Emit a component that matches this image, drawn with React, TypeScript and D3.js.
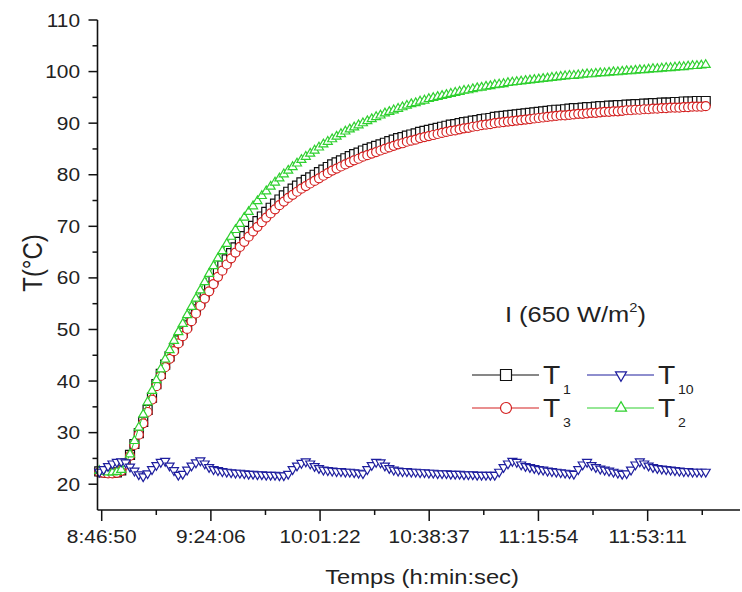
import React from "react";
import * as d3 from "d3";

// ---------- data ----------
const sampleStart = "8:46:00"; // time of first sample
const sampleStepSec = 90; // sampling interval (s)

const T1 = [
  22.5, 22.3, 22.2, 22.2, 22.3, 22.7, 24.0, 25.7, 27.8, 29.9,
  32.1, 34.4, 36.8, 39.4, 41.4, 43.2, 44.8, 46.4, 47.9, 49.4,
  50.8, 52.3, 53.9, 55.4, 56.8, 58.3, 59.7, 61.1, 62.4, 63.6,
  64.8, 65.9, 67.0, 68.1, 69.1, 70.1, 71.0, 71.9, 72.8, 73.6,
  74.4, 75.2, 76.0, 76.7, 77.3, 77.9, 78.5, 79.0, 79.5, 80.0,
  80.5, 81.0, 81.5, 82.0, 82.4, 82.8, 83.2, 83.6, 84.0, 84.3,
  84.7, 85.0, 85.3, 85.6, 85.9, 86.2, 86.5, 86.8, 87.1, 87.3,
  87.6, 87.8, 88.0, 88.3, 88.5, 88.7, 88.9, 89.1, 89.3, 89.5,
  89.7, 89.8, 90.0, 90.2, 90.3, 90.5, 90.6, 90.8, 90.9, 91.0,
  91.2, 91.3, 91.4, 91.5, 91.6, 91.7, 91.8, 91.9, 92.0, 92.1,
  92.2, 92.3, 92.4, 92.5, 92.6, 92.6, 92.7, 92.8, 92.9, 92.9,
  93.0, 93.1, 93.1, 93.2, 93.3, 93.3, 93.4, 93.4, 93.5, 93.5,
  93.6, 93.6, 93.7, 93.7, 93.8, 93.8, 93.9, 93.9, 94.0, 94.0,
  94.0, 94.1, 94.1, 94.2, 94.2, 94.2, 94.3, 94.3, 94.3,
];

const T3 = [
  22.3, 22.2, 22.1, 22.1, 22.2, 22.6, 23.8, 25.5, 27.6, 29.6,
  31.8, 34.0, 36.4, 39.0, 41.0, 42.7, 44.3, 45.8, 47.3, 48.7,
  50.1, 51.6, 53.1, 54.6, 56.0, 57.4, 58.8, 60.2, 61.4, 62.6,
  63.8, 64.9, 66.0, 67.0, 68.0, 69.0, 69.9, 70.8, 71.7, 72.5,
  73.3, 74.1, 74.8, 75.5, 76.1, 76.7, 77.3, 77.8, 78.3, 78.8,
  79.3, 79.8, 80.3, 80.8, 81.2, 81.6, 82.0, 82.4, 82.8, 83.1,
  83.5, 83.8, 84.1, 84.4, 84.7, 85.0, 85.3, 85.6, 85.9, 86.1,
  86.4, 86.6, 86.8, 87.1, 87.3, 87.5, 87.7, 87.9, 88.1, 88.3,
  88.5, 88.6, 88.8, 89.0, 89.1, 89.3, 89.4, 89.6, 89.7, 89.8,
  90.0, 90.1, 90.2, 90.3, 90.4, 90.5, 90.6, 90.7, 90.8, 90.9,
  91.0, 91.1, 91.2, 91.3, 91.4, 91.5, 91.5, 91.6, 91.7, 91.8,
  91.8, 91.9, 92.0, 92.0, 92.1, 92.2, 92.2, 92.3, 92.3, 92.4,
  92.5, 92.5, 92.6, 92.6, 92.7, 92.7, 92.8, 92.8, 92.9, 92.9,
  93.0, 93.0, 93.0, 93.1, 93.1, 93.2, 93.2, 93.2, 93.3,
];

const T2 = [
  22.6, 22.4, 22.3, 22.3, 22.4, 22.8, 24.0, 25.8, 28.4, 31.0,
  33.5, 35.9, 38.1, 40.2, 42.3, 44.2, 46.0, 47.8, 49.5, 51.1,
  52.8, 54.4, 56.0, 57.6, 59.2, 60.8, 62.3, 63.8, 65.2, 66.6,
  68.0, 69.3, 70.5, 71.7, 72.8, 73.9, 74.9, 75.9, 76.8, 77.7,
  78.5, 79.3, 80.1, 80.8, 81.5, 82.2, 82.9, 83.5, 84.1, 84.7,
  85.3, 85.9, 86.4, 86.9, 87.4, 87.9, 88.4, 88.8, 89.2, 89.6,
  90.0, 90.4, 90.8, 91.2, 91.5, 91.9, 92.2, 92.5, 92.8, 93.1,
  93.4, 93.7, 93.9, 94.2, 94.4, 94.7, 94.9, 95.1, 95.3, 95.5,
  95.7, 95.9, 96.1, 96.3, 96.4, 96.6, 96.8, 96.9, 97.1, 97.2,
  97.4, 97.5, 97.6, 97.8, 97.9, 98.0, 98.1, 98.2, 98.3, 98.4,
  98.5, 98.6, 98.7, 98.8, 98.9, 99.0, 99.1, 99.2, 99.2, 99.3,
  99.4, 99.5, 99.5, 99.6, 99.7, 99.7, 99.8, 99.9, 99.9, 100.0,
  100.1, 100.1, 100.2, 100.3, 100.3, 100.4, 100.5, 100.5, 100.6, 100.7,
  100.7, 100.8, 100.9, 100.9, 101.0, 101.1, 101.1, 101.2, 101.3,
];

const T10 = [
  22.4, 22.9, 23.5, 24.0, 24.3, 24.4, 24.2, 23.4, 22.6, 21.9,
  21.5, 22.1, 22.9, 23.7, 24.3, 24.5, 23.6, 22.7, 21.8, 22.0,
  22.8, 23.6, 24.2, 24.6, 24.0, 23.3, 22.9, 22.7, 22.5, 22.4,
  22.3, 22.2, 22.2, 22.1, 22.0, 22.0, 21.9, 21.9, 21.8, 21.8,
  21.8, 21.7, 21.7, 22.0, 22.9, 23.6, 24.1, 24.4, 24.0, 23.5,
  23.1, 22.8, 22.7, 22.6, 22.5, 22.5, 22.4, 22.4, 22.3, 22.2,
  22.1, 22.9, 23.7, 24.3, 24.2, 23.6, 23.1, 22.8, 22.6, 22.5,
  22.5, 22.4, 22.4, 22.3, 22.3, 22.2, 22.2, 22.1, 22.1, 22.1,
  22.0, 22.0, 22.0, 21.9, 21.9, 21.9, 21.8, 21.8, 21.8, 21.8,
  21.8, 22.4, 23.3, 24.0, 24.5, 24.3, 23.8, 23.5, 23.3, 23.1,
  22.9, 22.8, 22.6, 22.5, 22.4, 22.3, 22.2, 22.1, 22.0, 22.9,
  23.8, 24.3, 23.7, 23.3, 23.0, 22.8, 22.6, 22.4, 22.2, 22.0,
  22.1, 22.8, 23.8, 24.4, 24.0, 23.6, 23.3, 23.1, 23.0, 22.9,
  22.8, 22.7, 22.6, 22.5, 22.5, 22.4, 22.4, 22.4, 22.4,
];

const xTickLabels = ["8:46:50", "9:24:06", "10:01:22", "10:38:37", "11:15:54", "11:53:11"];
const xDomainLabels = ["8:45:24", "12:24:42"];
const yTicks = [20, 30, 40, 50, 60, 70, 80, 90, 100, 110];
const yMinorTicks = [25, 35, 45, 55, 65, 75, 85, 95, 105];
const yDomain = [15, 110];

const xTitle = "Temps (h:min:sec)";
const yTitle = "T(°C)";

// ---------- helpers ----------
const toSec = (s: string) => {
  const [h, m, sec] = s.split(":").map(Number);
  return h * 3600 + m * 60 + sec;
};

const FONT = "'Liberation Sans', Arial, sans-serif";
const SX = 1.13; // horizontal stretch of the original's text

type Shape = "square" | "circle" | "triUp" | "triDown";

const markerPath = (shape: Shape, s: number) => {
  if (shape === "square") return d3.symbol(d3.symbolSquare, s * s)()!;
  if (shape === "circle") return d3.symbol(d3.symbolCircle, (Math.PI * s * s) / 4)()!;
  return d3.symbol(d3.symbolTriangle, (Math.sqrt(3) / 4) * s * s * 1.0)()!;
};

const Marker = ({ shape, x, y, s, color }: { shape: Shape; x: number; y: number; s: number; color: string }) => (
  <path
    d={markerPath(shape, s)}
    transform={`translate(${x},${y})${shape === "triDown" ? " rotate(180)" : ""}`}
    fill="#fff"
    stroke={color}
    strokeWidth={1.2}
  />
);

const SText = ({
  x,
  y,
  size,
  anchor = "start",
  children,
  fill = "#222",
}: {
  x: number;
  y: number;
  size: number;
  anchor?: "start" | "middle" | "end";
  children: React.ReactNode;
  fill?: string;
}) => (
  <text
    transform={`translate(${x},${y}) scale(${SX},1)`}
    fontFamily={FONT}
    fontSize={size}
    textAnchor={anchor}
    fill={fill}
  >
    {children}
  </text>
);

export default function App() {
  const W = 742;
  const H = 592;
  const x0 = 97.5;
  const x1 = 740;
  const yTop = 20;
  const yBot = 510;

  const x = d3.scaleLinear().domain(xDomainLabels.map(toSec)).range([x0, x1]);
  const y = d3.scaleLinear().domain(yDomain).range([yBot, yTop]);

  const start = toSec(sampleStart);
  const times = T1.map((_, i) => start + i * sampleStepSec);

  const majors = xTickLabels.map(toSec);
  const half = (majors[1] - majors[0]) / 2;
  const minors = majors.map((t) => t + half).filter((t) => x(t) <= x1);

  const series: { name: string; data: number[]; color: string; shape: Shape }[] = [
    { name: "T1", data: T1, color: "#111111", shape: "square" },
    { name: "T3", data: T3, color: "#d42020", shape: "circle" },
    { name: "T2", data: T2, color: "#2fd02f", shape: "triUp" },
    { name: "T10", data: T10, color: "#1e1e9e", shape: "triDown" },
  ];

  const line = d3
    .line<number>()
    .x((_, i) => x(times[i]))
    .y((d) => y(d));

  const legendItems: { label: string; sub: string; color: string; shape: Shape; lx: number; ly: number }[] = [
    { label: "T", sub: "1", color: "#111111", shape: "square", lx: 472, ly: 375 },
    { label: "T", sub: "10", color: "#1e1e9e", shape: "triDown", lx: 587, ly: 375 },
    { label: "T", sub: "3", color: "#d42020", shape: "circle", lx: 472, ly: 408 },
    { label: "T", sub: "2", color: "#2fd02f", shape: "triUp", lx: 587, ly: 408 },
  ];

  return (
    <svg
      width={W}
      height={H}
      viewBox={`0 0 ${W} ${H}`}
      style={{ position: "absolute", left: 0, top: 0, background: "#fff" }}
    >
      <rect x={0} y={0} width={W} height={H} fill="#fff" />

      {/* series */}
      {series.map((s) => (
        <g key={s.name}>
          <path d={line(s.data)!} fill="none" stroke={s.color} strokeWidth={1} />
          {s.data.map((v, i) => (
            <Marker key={i} shape={s.shape} x={x(times[i])} y={y(v)} s={9} color={s.color} />
          ))}
        </g>
      ))}

      {/* axes */}
      <line x1={x0} x2={x0} y1={yTop} y2={yBot} stroke="#111" strokeWidth={1.6} />
      <line x1={x0} x2={x1} y1={yBot} y2={yBot} stroke="#111" strokeWidth={1.6} />

      {yTicks.map((t) => (
        <g key={t}>
          <line x1={x0 - 9} x2={x0} y1={y(t)} y2={y(t)} stroke="#111" strokeWidth={1.5} />
          <SText x={80} y={y(t) + 6.6} size={18.5} anchor="end">
            {t}
          </SText>
        </g>
      ))}
      {yMinorTicks.map((t) => (
        <line key={t} x1={x0 - 5} x2={x0} y1={y(t)} y2={y(t)} stroke="#111" strokeWidth={1.5} />
      ))}

      {majors.map((t, i) => (
        <g key={t}>
          <line x1={x(t)} x2={x(t)} y1={yBot} y2={yBot + 11} stroke="#111" strokeWidth={1.5} />
          <SText x={x(t)} y={543} size={18.5} anchor="middle">
            {xTickLabels[i]}
          </SText>
        </g>
      ))}
      {minors.map((t) => (
        <line key={t} x1={x(t)} x2={x(t)} y1={yBot} y2={yBot + 5} stroke="#111" strokeWidth={1.5} />
      ))}

      {/* axis titles */}
      <SText x={422} y={584} size={21}>
        <tspan textAnchor="middle">{xTitle}</tspan>
      </SText>
      <text
        transform="translate(42,263) rotate(-90) scale(1,1.13)"
        fontFamily={FONT}
        fontSize={24}
        textAnchor="middle"
        fill="#222"
      >
        {yTitle}
      </text>

      {/* legend */}
      <SText x={505} y={322} size={22.5}>
        {"I (650 W/m"}
        <tspan fontSize={13} dy={-10}>
          2
        </tspan>
        <tspan dy={10}>)</tspan>
      </SText>
      {legendItems.map((it) => (
        <g key={it.sub}>
          <line x1={it.lx} x2={it.lx + 67} y1={it.ly} y2={it.ly} stroke={it.color} strokeWidth={1.2} />
          <Marker shape={it.shape} x={it.lx + 34} y={it.ly} s={11} color={it.color} />
          <SText x={it.lx + 71} y={it.ly + 8.5} size={25}>
            {it.label}
          </SText>
          <SText x={it.lx + 91} y={it.ly + 19} size={12.5}>
            {it.sub}
          </SText>
        </g>
      ))}
    </svg>
  );
}
